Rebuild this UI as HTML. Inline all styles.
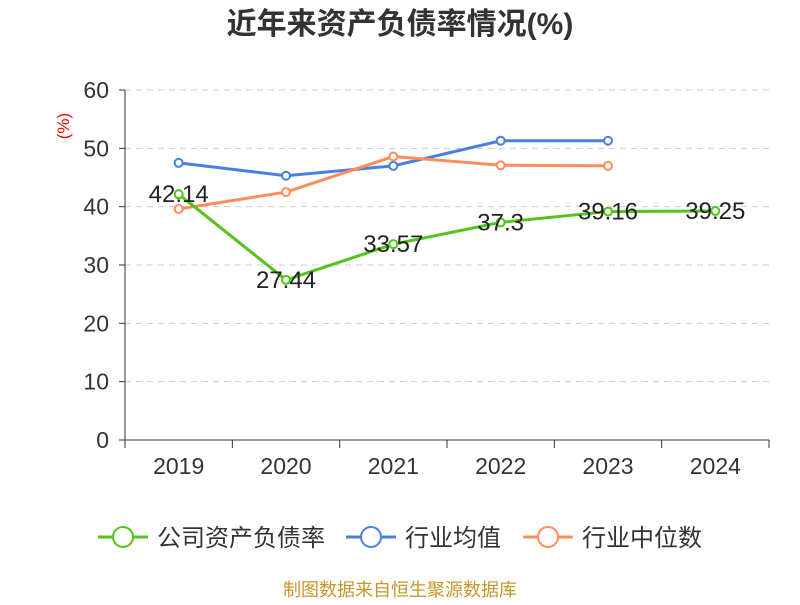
<!DOCTYPE html>
<html><head><meta charset="utf-8"><style>
body{margin:0;background:#fff;}
svg text{font-family:"Liberation Sans","Noto Sans CJK SC",sans-serif;}
</style></head><body>
<svg width="800" height="600" xmlns="http://www.w3.org/2000/svg" id="chart">
<text x="400" y="34" text-anchor="middle" font-size="30" font-weight="bold" fill="#333">近年来资产负债率情况(%)</text>
<text x="69" y="126" transform="rotate(-90 69 126)" text-anchor="middle" font-size="17" fill="#e00">(%)</text>
<g id="grid"></g><g id="axes"></g><g id="series"></g>
<g>
<g><line x1="98" y1="537" x2="148" y2="537" stroke="#52c41a" stroke-width="3"/><circle cx="123" cy="537" r="10" fill="#fff" stroke="#52c41a" stroke-width="2"/><text x="157" y="546" font-size="24" fill="#333">公司资产负债率</text></g>
<g><line x1="346" y1="537" x2="396" y2="537" stroke="#4a7fe0" stroke-width="3"/><circle cx="371" cy="537" r="10" fill="#fff" stroke="#4a7fe0" stroke-width="2"/><text x="405" y="546" font-size="24" fill="#333">行业均值</text></g>
<g><line x1="523" y1="537" x2="573" y2="537" stroke="#ff8c5a" stroke-width="3"/><circle cx="548" cy="537" r="10" fill="#fff" stroke="#ff8c5a" stroke-width="2"/><text x="582" y="546" font-size="24" fill="#333">行业中位数</text></g>
</g>
<text x="400" y="596" text-anchor="middle" font-size="18" fill="#c8962a">制图数据来自恒生聚源数据库</text>
</svg>
<script>
const categories=["2019","2020","2021","2022","2023","2024"];
const yTicks=[0,10,20,30,40,50,60];
const companyValues=[42.14,27.44,33.57,37.3,39.16,39.25];
const companyLabels=["42.14","27.44","33.57","37.3","39.16","39.25"];
const industryAvg=[47.5,45.3,47,51.3,51.3];
const industryMedian=[39.6,42.5,48.6,47.1,47];
const NS="http://www.w3.org/2000/svg";
const x0=125,x1=769,yb=440,yt=90;
const bw=(x1-x0)/categories.length;
const xS=i=>x0+bw*(i+0.5);
const yS=v=>yb-(v/60)*(yb-yt);
function mk(tag,attrs,parent){const e=document.createElementNS(NS,tag);for(const k in attrs)e.setAttribute(k,attrs[k]);parent.appendChild(e);return e;}
const grid=document.getElementById('grid'),axes=document.getElementById('axes'),ser=document.getElementById('series');
yTicks.forEach(t=>{
 const y=yS(t);
 if(t>0){const g=mk('line',{x1:x0,x2:x1,y1:y,y2:y,stroke:'#ccc','stroke-dasharray':'6,5'},grid);
 
 }
 mk('line',{x1:x0-6,x2:x0,y1:y,y2:y,stroke:'#333'},axes);
 const tx=mk('text',{x:x0-16,y:y+8,'text-anchor':'end','font-size':23,fill:'#333'},axes);tx.textContent=t;
 
 
});
mk('line',{x1:x0,x2:x0,y1:yt,y2:yb,stroke:'#333'},axes);
mk('line',{x1:x0,x2:x1,y1:yb,y2:yb,stroke:'#333'},axes);
for(let i=0;i<=categories.length;i++){const x=x0+bw*i;mk('line',{x1:x,x2:x,y1:yb,y2:yb+8,stroke:'#333'},axes);}
categories.forEach((c,i)=>{const t=mk('text',{x:xS(i),y:474,'text-anchor':'middle','font-size':23,fill:'#333'},axes);t.textContent=c;
 
 });
function line(vals,color,name){
 const pts=vals.map((v,i)=>xS(i)+','+yS(v)).join(' ');
 const p=mk('polyline',{points:pts,fill:'none',stroke:color,'stroke-width':3},ser);
 
 
 vals.forEach((v,i)=>{const c=mk('circle',{cx:xS(i),cy:yS(v),r:4,fill:'#fff',stroke:color,'stroke-width':2},ser);
 
 });
}
line(industryAvg,'#4a7fe0','industry-avg');
line(industryMedian,'#ff8c5a','industry-median');
line(companyValues,'#52c41a','company');
companyValues.forEach((v,i)=>{const t=mk('text',{x:xS(i),y:yS(v)+8,'text-anchor':'middle','font-size':24,fill:'#222'},ser);t.textContent=companyLabels[i];
 
 });
</script>
</body></html>
